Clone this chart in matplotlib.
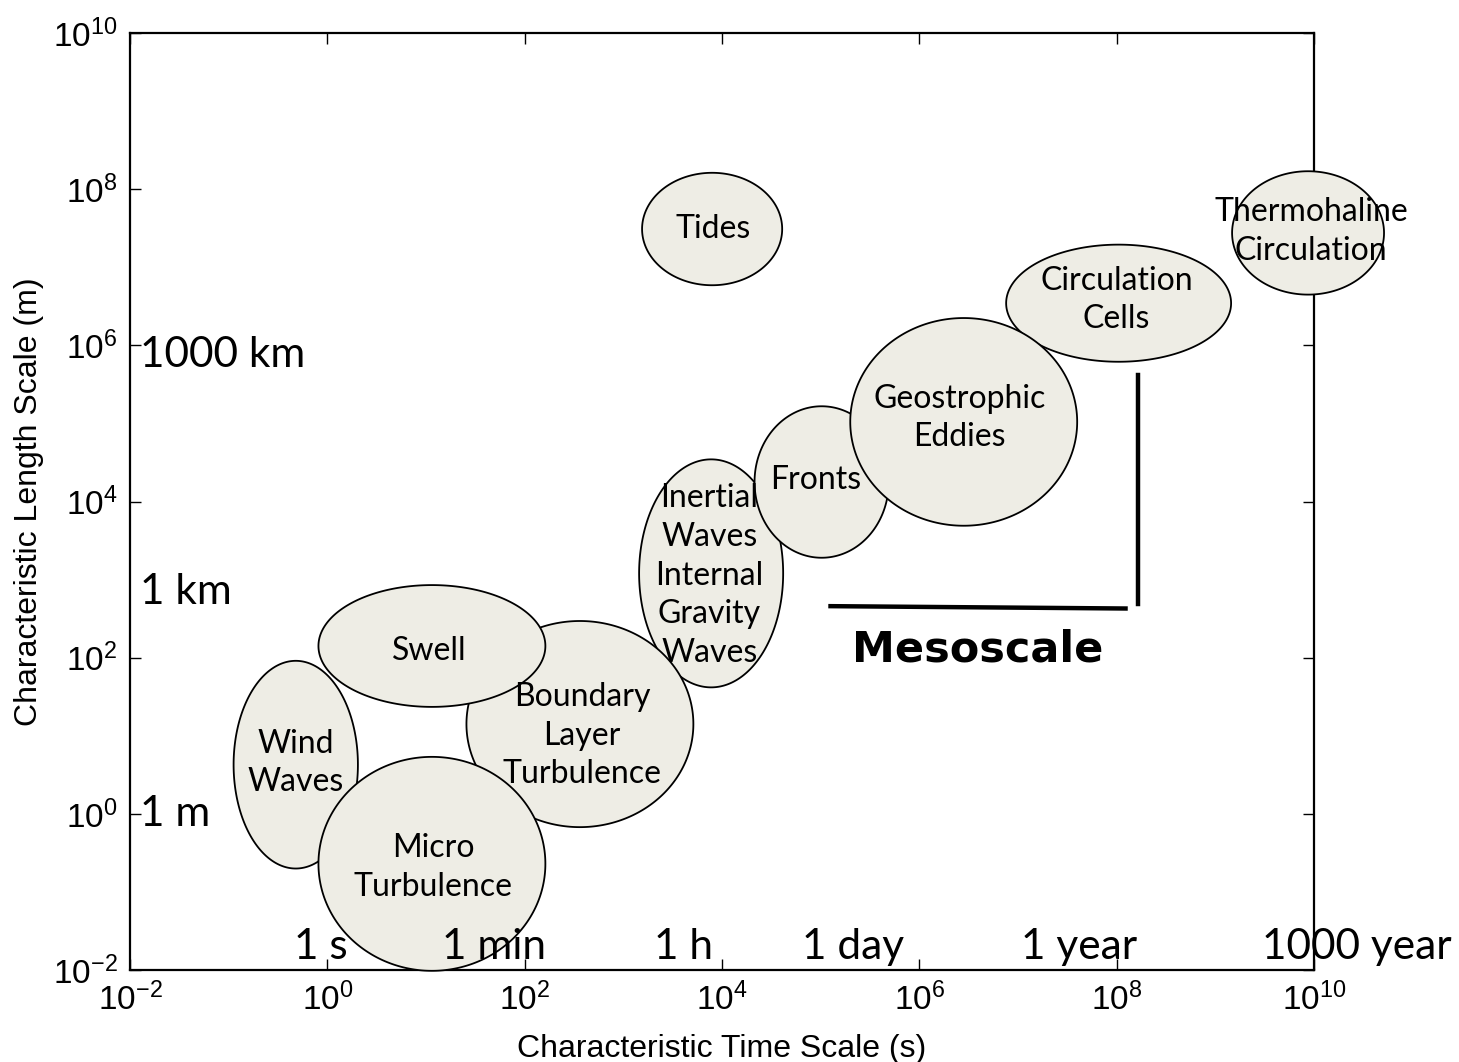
import numpy as np
import matplotlib.pyplot as plt

plt.rcParams['mathtext.fontset'] = 'custom'
plt.rcParams['mathtext.rm'] = 'Liberation Sans'
plt.rcParams['mathtext.it'] = 'Liberation Sans'

# phenomena: centre (log10 time, log10 length) and half-extent in decades
names = ["Tides", "Thermohaline\nCirculation", "Circulation\nCells",
         "Inertial\nWaves\nInternal\nGravity\nWaves", "Fronts", "Geostrophic\nEddies",
         "Boundary\nLayer\nTurbulence", "Swell", "Wind\nWaves", "Micro\nTurbulence"]
cx = [3.90, 9.94, 8.02, 3.89, 5.01, 6.45, 2.56, 1.06, -0.32, 1.06]
cy = [7.49, 7.44, 6.54, 3.08, 4.25, 5.02, 1.15, 2.15, 0.63, -0.64]
rx = [0.71, 0.77, 1.14, 0.73, 0.68, 1.15, 1.15, 1.15, 0.63, 1.15]
ry = [0.72, 0.79, 0.75, 1.46, 0.97, 1.33, 1.32, 0.78, 1.33, 1.37]
# label centres
lx = [3.91, 9.97, 8.00, 3.87, 4.95, 6.41, 2.58, 1.03, -0.32, 1.07]
ly = [7.49, 7.46, 6.58, 3.05, 4.27, 5.07, 1.00, 2.08, 0.65, -0.69]

# reference scale labels (left edge position, log10)
len_labels = ["1000 km", "1 km", "1 m"]
len_pos = [5.88, 2.84, 0.0]
time_labels = ["1 s", "1 min", "1 h", "1 day", "1 year", "1000 year"]
time_pos = [-0.34, 1.16, 3.31, 4.81, 7.03, 9.47]

ticks = [-2, 0, 2, 4, 6, 8, 10]

fig = plt.figure(figsize=(14.59, 10.62), dpi=100)
ax = fig.add_axes([0.0891, 0.0866, 0.8115, 0.8823])
ax.set_xscale('log')
ax.set_yscale('log')
ax.set_xlim(1e-2, 1e10)
ax.set_ylim(1e-2, 1e10)
ax.set_xticks([10.0**k for k in ticks])
ax.set_yticks([10.0**k for k in ticks])
ax.set_xticklabels([f'$10^{{{k}}}$' for k in ticks])
ax.set_yticklabels([f'$10^{{{k}}}$' for k in ticks])
ax.minorticks_off()
ax.tick_params(which='both', direction='in', length=8, width=1, top=True, right=True,
               labelsize=24, pad=9)
for s in ax.spines.values():
    s.set_linewidth(1.6)
    s.set_zorder(2.5)

ax.set_xlabel('Characteristic Time Scale (s)', fontsize=23, family='Liberation Sans', labelpad=12)
ax.set_ylabel('Characteristic Length Scale (m)', fontsize=23, family='Liberation Sans', labelpad=6)

t = np.linspace(0, 2 * np.pi, 300)
for i, name in enumerate(names):
    xs = 10 ** (cx[i] + rx[i] * np.cos(t))
    ys = 10 ** (cy[i] + ry[i] * np.sin(t))
    ax.fill(xs, ys, facecolor='#EEEDE5', edgecolor='black', lw=1.3, zorder=3 + i * 0.01, clip_on=False)
    ax.text(10 ** lx[i], 10 ** ly[i], name, ha='center', va='center', fontsize=23,
            family=['Lato', 'DejaVu Sans'], linespacing=1.36, zorder=4, clip_on=False)

for lab, p in zip(len_labels, len_pos):
    ax.text(10 ** -1.9, 10 ** p, lab, ha='left', va='center', fontsize=30.5,
            family=['Lato', 'DejaVu Sans'], zorder=4)
for lab, p in zip(time_labels, time_pos):
    ax.text(10 ** p, 10 ** -1.71, lab, ha='left', va='center', fontsize=30.5,
            family=['Lato', 'DejaVu Sans'], zorder=4, clip_on=False)

# mesoscale bracket
ax.plot([10 ** 5.10, 10 ** 8.09], [10 ** 2.66, 10 ** 2.63], color='black', lw=3.2, zorder=3)
ax.plot([10 ** 8.22, 10 ** 8.22], [10 ** 5.62, 10 ** 2.69], color='black', lw=3.2, zorder=3)
ax.text(10 ** 6.59, 10 ** 2.10, 'Mesoscale', ha='center', va='center', fontsize=31,
        fontweight='bold', family=['DejaVu Sans'], zorder=4)

fig.savefig('out.png', dpi=100)
